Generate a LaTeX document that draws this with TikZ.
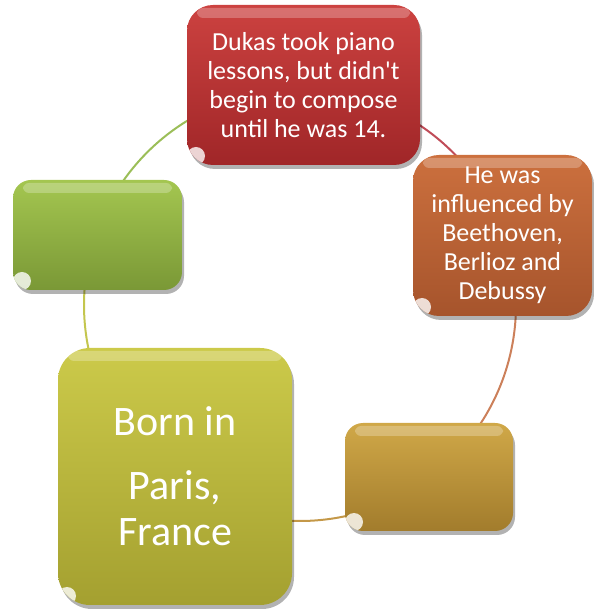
\documentclass[tikz,border=0pt]{standalone}
\usepackage{fontspec}
\setmainfont{Carlito}
\usetikzlibrary{shadows}
\definecolor{redtop}{RGB}{204,66,64}
\definecolor{redbot}{RGB}{160,38,40}
\definecolor{orgtop}{RGB}{204,112,62}
\definecolor{orgbot}{RGB}{166,84,44}
\definecolor{grntop}{RGB}{164,198,80}
\definecolor{grnbot}{RGB}{122,152,54}
\definecolor{olvtop}{RGB}{204,202,74}
\definecolor{olvbot}{RGB}{164,160,48}
\definecolor{gldtop}{RGB}{208,168,72}
\definecolor{gldbot}{RGB}{162,124,44}
\tikzset{cyc/.style = {inner sep = 0, align = center, text = white,
                       font = \fontsize{26}{28.9}\selectfont,
                       drop shadow = {shadow xshift = 2, shadow yshift = -4,
                                      opacity = 0.3, fill = black},
                       path picture = {
                         \fill [white, opacity = 0.25, rounded corners = 6]
                           ([shift = {(10, -3)}]path picture bounding box.north west)
                           rectangle ([shift = {(-10, -13)}]path picture bounding box.north east);
                         \fill [white, opacity = 0.8]
                           ([shift = {(9, 9)}]path picture bounding box.south west) circle [radius = 9];}}}
\tikzset{link/.style = {line width = 2}}
\begin{document}
\begin{tikzpicture}[x = 1pt, y = 1pt]
    \useasboundingbox (0, 0) rectangle (594, 611);
    \coordinate (ctr) at (300, 306);
    \draw [link, color = {rgb,255:red,155;green,190;blue,88}] (ctr) ++(116:216) arc [start angle = 116, end angle = 152, radius = 216];
    \draw [link, color = {rgb,255:red,196;green,198;blue,78}] (ctr) ++(170:216) arc [start angle = 170, end angle = 198, radius = 216];
    \draw [link, color = {rgb,255:red,196;green,152;blue,72}] (ctr) ++(262:216) arc [start angle = 262, end angle = 288, radius = 216];
    \draw [link, color = {rgb,255:red,204;green,128;blue,90}] (ctr) ++(322:216) arc [start angle = 322, end angle = 362, radius = 216];
    \draw [link, color = {rgb,255:red,192;green,76;blue,88}] (ctr) ++(38:216) arc [start angle = 38, end angle = 62, radius = 216];
    \node [cyc, rounded corners = 26, minimum width = 233, minimum height = 160,
           top color = redtop, bottom color = redbot] (lessons) at (303.5, 526)
          {Dukas took piano\\lessons, but didn\textquotesingle t\\begin to compose\\until he was 14.};
    \node [cyc, rounded corners = 26, minimum width = 179, minimum height = 161,
           top color = orgtop, bottom color = orgbot] (influence) at (502.5, 375.5)
          {He was\\influenced by\\Beethoven,\\Berlioz and\\Debussy};
    \node [cyc, rounded corners = 18, minimum width = 169, minimum height = 110,
           top color = grntop, bottom color = grnbot] (blankgreen) at (97.5, 376) {};
    \node [cyc, rounded corners = 32, minimum width = 234, minimum height = 257,
           top color = olvtop, bottom color = olvbot, font = \fontsize{42}{46}\selectfont]
          (paris) at (175, 134.5) {Born in\\[18pt]Paris,\\France};
    \node [cyc, rounded corners = 18, minimum width = 168, minimum height = 108,
           top color = gldtop, bottom color = gldbot] (blankgold) at (429, 134) {};
  \end{tikzpicture}
\end{document}
